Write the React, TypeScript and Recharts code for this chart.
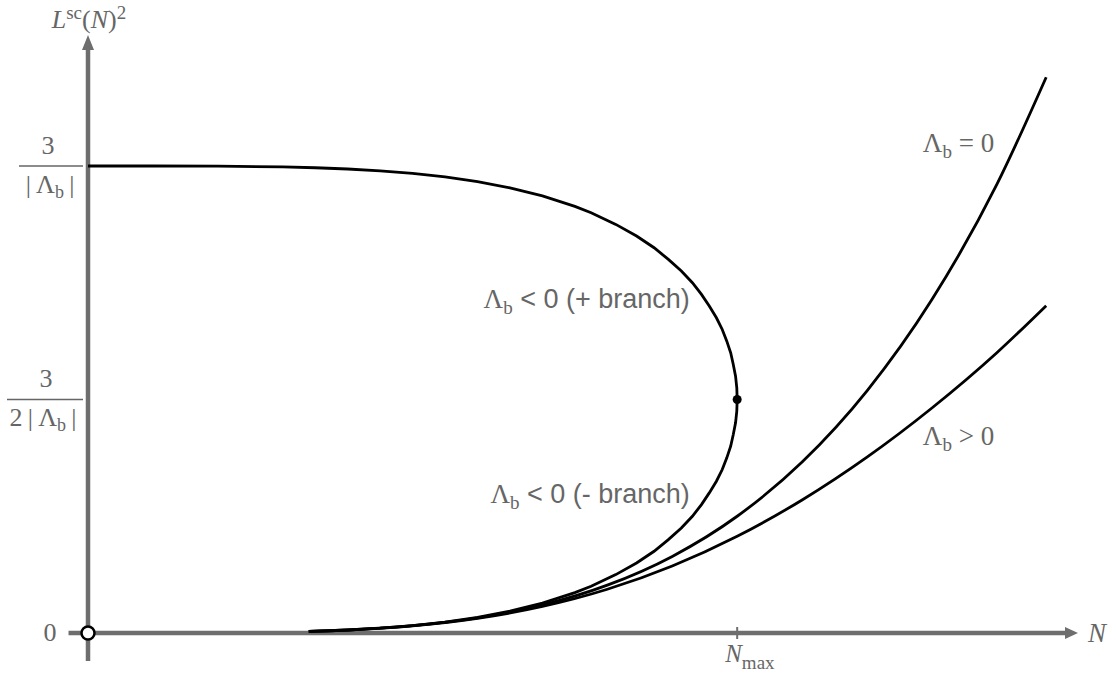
import React from 'react'
import { LineChart, Line, XAxis, YAxis, ReferenceLine, ReferenceDot } from 'recharts'

// N in units of N_max, L^2 in units of 3/(2|Λb|)

// Λb < 0, + branch (from N = 0 out to N_max)
const plusN = [0, 0.1, 0.2, 0.3, 0.35, 0.4, 0.45, 0.5, 0.55, 0.6, 0.65, 0.7, 0.75, 0.775, 0.813, 0.845, 0.872, 0.894, 0.914, 0.931, 0.945, 0.957, 0.968, 0.977, 0.984, 0.99, 0.994, 0.9975, 0.9994, 1]
const plusL = [2, 2, 1.9992, 1.9959, 1.9925, 1.9871, 1.9793, 1.9682, 1.9532, 1.933, 1.9064, 1.8717, 1.8268, 1.8, 1.75, 1.7, 1.65, 1.6, 1.55, 1.5, 1.45, 1.4, 1.35, 1.3, 1.25, 1.2, 1.15, 1.1, 1.05, 1]

// Λb < 0, - branch
const minusN = [0.34, 0.4, 0.45, 0.5, 0.55, 0.6, 0.65, 0.7, 0.75, 0.775, 0.813, 0.845, 0.872, 0.894, 0.914, 0.931, 0.945, 0.957, 0.968, 0.977, 0.984, 0.99, 0.994, 0.9975, 0.9994, 1]
const minusL = [0.0067, 0.0129, 0.0207, 0.0318, 0.0468, 0.067, 0.0936, 0.1283, 0.1732, 0.2, 0.25, 0.3, 0.35, 0.4, 0.45, 0.5, 0.55, 0.6, 0.65, 0.7, 0.75, 0.8, 0.85, 0.9, 0.95, 1]

// Λb = 0 and Λb > 0 share the N grid
const openN = [0.34, 0.4, 0.5, 0.6, 0.7, 0.8, 0.9, 1.0, 1.1, 1.2, 1.3, 1.4, 1.476]
const zeroL = [0.0067, 0.0128, 0.0313, 0.0648, 0.12, 0.2048, 0.328, 0.5, 0.732, 1.037, 1.428, 1.921, 2.38]
const posL = [0.0067, 0.0127, 0.0308, 0.0628, 0.1136, 0.1873, 0.2869, 0.4142, 0.5698, 0.7532, 0.9637, 1.2004, 1.402]

const yTicks = [0, 1, 2]
const xTicks = [1]

const zip = (xs: number[], ys: number[]) => xs.map((x, i) => ({ x, y: ys[i] }))

const serif = '"Liberation Serif", "Times New Roman", serif'
const sans = '"Liberation Sans", Arial, sans-serif'
const ink = '#666'
const axisGray = '#6e6e6e'

const XArrow = (p: any) => {
  const { x1, y1, x2, y2 } = p
  return (
    <g>
      <line x1={x1} y1={y1} x2={x2 - 10} y2={y2} stroke={axisGray} strokeWidth={4.5} />
      <polygon points={`${x2},${y2} ${x2 - 13},${y2 - 6} ${x2 - 13},${y2 + 6}`} fill={axisGray} />
    </g>
  )
}

const YArrow = (p: any) => {
  const { x1, y1, x2, y2 } = p
  const top = Math.min(y1, y2)
  const bottom = Math.max(y1, y2)
  return (
    <g>
      <line x1={x1} y1={bottom} x2={x2} y2={top + 10} stroke={axisGray} strokeWidth={4.5} />
      <polygon points={`${x2},${top} ${x2 - 6},${top + 15} ${x2 + 6},${top + 15}`} fill={axisGray} />
    </g>
  )
}

// tick x/y come in at the axis line (tickSize and tickMargin are 0)
const YTick = (props: any) => {
  const { x, y, payload } = props
  const v = payload.value
  if (v === 0) {
    return (
      <text x={x - 38} y={y + 8} textAnchor="middle" fontFamily={serif} fontSize={26} fill={ink}>0</text>
    )
  }
  const wide = v === 1
  const barL = wide ? x - 81 : x - 69
  const numX = wide ? x - 42 : x - 40
  const denX = wide ? x - 45 : x - 38
  return (
    <g fontFamily={serif} fontSize={26} fill={ink}>
      <text x={numX} y={y - 12} textAnchor="middle">3</text>
      <line x1={barL} y1={y} x2={x - 5} y2={y} stroke={ink} strokeWidth={1.5} />
      <text x={denX} y={y + 27} textAnchor="middle">
        {wide ? '2\u2009|\u2009' : '|\u2009'}
        <tspan>Λ</tspan>
        <tspan dy={5} fontSize={18}>b</tspan>
        <tspan dy={-5}>{'\u2009|'}</tspan>
      </text>
    </g>
  )
}

const XTick = (props: any) => {
  const { x, y } = props
  return (
    <g>
      <line x1={x} y1={y - 6} x2={x} y2={y + 6} stroke={axisGray} strokeWidth={2} />
      <text x={x - 12} y={y + 29} fontFamily={serif} fontSize={25} fill={ink}>
        <tspan fontStyle="italic">N</tspan>
        <tspan dy={7} fontSize={19}>max</tspan>
      </text>
    </g>
  )
}

const textAt = (render: (cx: number, cy: number) => React.ReactNode) => (p: any) => <g>{render(p.cx, p.cy)}</g>

const App = () => {
  return (
    <div style={{ position: 'absolute', left: 0, top: 0, width: 1116, height: 677, background: '#fff' }}>
      <LineChart width={1116} height={677} margin={{ top: 35, right: 38, bottom: 43, left: 87 }}>
        <XAxis
          type="number"
          dataKey="x"
          domain={[0, 1.525]}
          ticks={xTicks}
          interval={0}
          height={1}
          axisLine={false}
          tickLine={false}
          tickSize={0}
          tickMargin={0}
          allowDataOverflow
          tick={<XTick />}
        />
        <YAxis
          type="number"
          dataKey="y"
          domain={[0, 2.561]}
          ticks={yTicks}
          interval={0}
          width={1}
          axisLine={false}
          tickLine={false}
          tickSize={0}
          tickMargin={0}
          allowDataOverflow
          tick={<YTick />}
        />
        <ReferenceLine segment={[{ x: -0.03, y: 0 }, { x: 1.525, y: 0 }]} ifOverflow="visible" shape={XArrow} />
        <ReferenceLine segment={[{ x: 0, y: -0.12 }, { x: 0, y: 2.561 }]} ifOverflow="visible" shape={YArrow} />

        <Line data={zip(plusN, plusL)} dataKey="y" type="linear" stroke="#000" strokeWidth={2.8} dot={false} isAnimationActive={false} />
        <Line data={zip(minusN, minusL)} dataKey="y" type="linear" stroke="#000" strokeWidth={2.8} dot={false} isAnimationActive={false} />
        <Line data={zip(openN, zeroL)} dataKey="y" type="monotone" stroke="#000" strokeWidth={2.8} dot={false} isAnimationActive={false} />
        <Line data={zip(openN, posL)} dataKey="y" type="monotone" stroke="#000" strokeWidth={2.8} dot={false} isAnimationActive={false} />

        <ReferenceDot x={1} y={1} r={4.5} fill="#000" stroke="none" />
        <ReferenceDot x={0} y={0} r={6.5} fill="#fff" stroke="#000" strokeWidth={2.5} ifOverflow="visible" />

        <ReferenceDot
          x={0}
          y={2.561}
          ifOverflow="visible"
          shape={textAt((cx, cy) => (
            <text x={cx + 1} y={cy - 7} textAnchor="middle" fontFamily={serif} fontSize={26} fill={ink}>
              <tspan fontStyle="italic">L</tspan>
              <tspan dy={-9} fontSize={19}>sc</tspan>
              <tspan dy={9}>(</tspan>
              <tspan fontStyle="italic">N</tspan>
              <tspan>)</tspan>
              <tspan dy={-9} fontSize={19}>2</tspan>
            </text>
          ))}
        />
        <ReferenceDot
          x={1.525}
          y={0}
          ifOverflow="visible"
          shape={textAt((cx, cy) => (
            <text x={cx + 10} y={cy + 9} fontFamily={serif} fontStyle="italic" fontSize={27} fill={ink}>N</text>
          ))}
        />
        <ReferenceDot
          x={0.927}
          y={1.392}
          shape={textAt((cx, cy) => (
            <text x={cx} y={cy} textAnchor="end" fontSize={27} fill={ink}>
              <tspan fontFamily={serif}>Λ</tspan>
              <tspan fontFamily={serif} dy={6} fontSize={19}>b</tspan>
              <tspan fontFamily={sans} dy={-6}>{' < 0 (+ branch)'}</tspan>
            </text>
          ))}
        />
        <ReferenceDot
          x={0.927}
          y={0.557}
          shape={textAt((cx, cy) => (
            <text x={cx} y={cy} textAnchor="end" fontSize={27} fill={ink}>
              <tspan fontFamily={serif}>Λ</tspan>
              <tspan fontFamily={serif} dy={6} fontSize={19}>b</tspan>
              <tspan fontFamily={sans} dy={-6}>{' < 0 (- branch)'}</tspan>
            </text>
          ))}
        />
        <ReferenceDot
          x={1.286}
          y={2.06}
          shape={textAt((cx, cy) => (
            <text x={cx} y={cy} fontFamily={serif} fontSize={27} fill={ink}>
              <tspan>Λ</tspan>
              <tspan dy={6} fontSize={19}>b</tspan>
              <tspan dy={-6}>{' = 0'}</tspan>
            </text>
          ))}
        />
        <ReferenceDot
          x={1.286}
          y={0.805}
          shape={textAt((cx, cy) => (
            <text x={cx} y={cy} fontFamily={serif} fontSize={27} fill={ink}>
              <tspan>Λ</tspan>
              <tspan dy={6} fontSize={19}>b</tspan>
              <tspan dy={-6}>{' > 0'}</tspan>
            </text>
          ))}
        />
      </LineChart>
    </div>
  )
}

export default App
